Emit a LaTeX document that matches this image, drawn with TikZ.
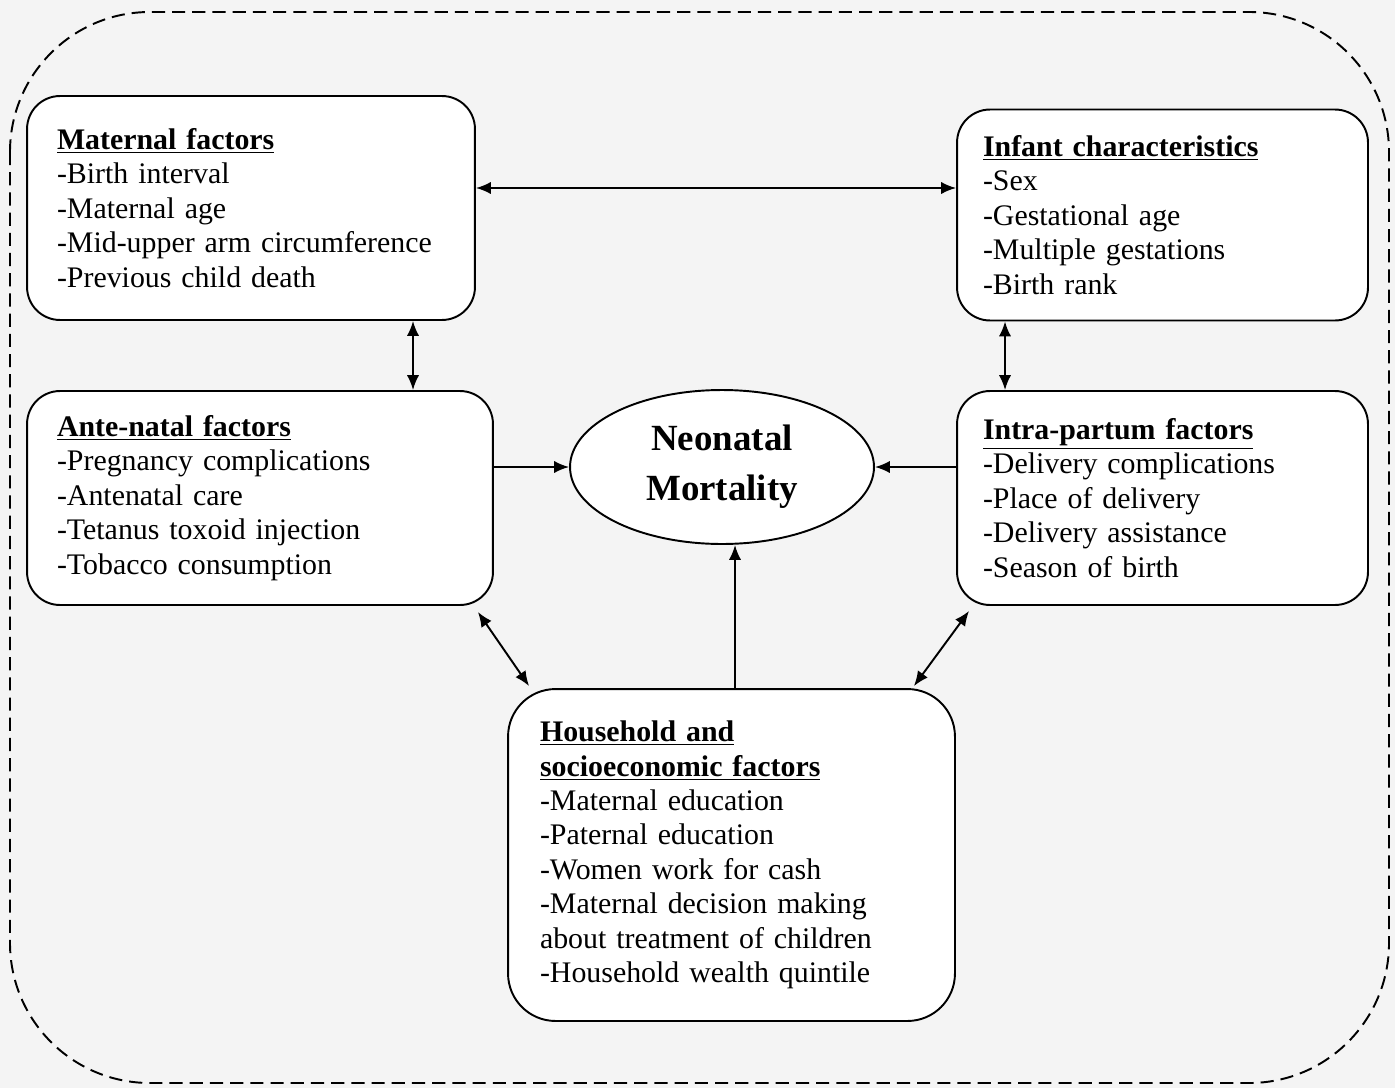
\documentclass[tikz,border=0pt]{standalone}
\usepackage{fontspec}
\setmainfont{Liberation Serif}
\usetikzlibrary{arrows.meta,shapes.geometric}
\definecolor{bggray}{HTML}{F4F4F4}
\begin{document}
\begin{tikzpicture}[x=0.02cm,y=-0.02cm,
 box/.style={draw, line width=1.1pt, rounded corners=0.66cm, fill=white, align=left,
   font=\fontsize{17pt}{19.6pt}\selectfont, inner ysep=0pt},
 arr/.style={line width=1.1pt, -{Latex[length=8.5pt,width=7pt]}},
 darr/.style={line width=1.1pt, {Latex[length=8.5pt,width=7pt]}-{Latex[length=8.5pt,width=7pt]}}]
\useasboundingbox (0,0) rectangle (1395,1088);
\fill[bggray] (0,0) rectangle (1395,1088);
\draw[line width=1.1pt, dash pattern=on 7.5pt off 4pt, rounded corners=2.8cm] (10,12) rectangle (1389,1083);

\node[box, minimum height=4.48cm, text width=7.76cm, inner xsep=0.6cm] (mat) at (251,208)
 {\underline{\textbf{Maternal factors}}\\-Birth interval\\-Maternal age\\-Mid-upper arm circumference\\-Previous child death};
\node[box, minimum height=4.22cm, text width=7.18cm, inner xsep=0.52cm] (inf) at (1162.5,215)
 {\underline{\textbf{Infant characteristics}}\\-Sex\\-Gestational age\\-Multiple gestations\\-Birth rank};
\node[box, minimum height=4.28cm, text width=8.12cm, inner xsep=0.6cm] (ante) at (260,498)
 {\underline{\textbf{Ante-natal factors}}\\-Pregnancy complications\\-Antenatal care\\-Tetanus toxoid injection\\-Tobacco consumption};
\node[box, minimum height=4.28cm, text width=7.18cm, inner xsep=0.52cm] (intra) at (1162.5,498)
 {\underline{\textbf{Intra-partum factors}}\\-Delivery complications\\-Place of delivery\\-Delivery assistance\\-Season of birth};
\node[box, rounded corners=0.95cm, minimum height=6.64cm, text width=7.66cm, inner xsep=0.64cm] (house) at (731.5,855)
 {\underline{\textbf{Household and}}\\\underline{\textbf{socioeconomic factors}}\\-Maternal education\\-Paternal education\\-Women work for cash\\-Maternal decision making\\about treatment of children\\-Household wealth quintile};
\node[draw, ellipse, line width=1.1pt, fill=white, minimum width=6.08cm, minimum height=3.08cm,
  inner sep=0pt, align=center, font=\bfseries\fontsize{21pt}{28.5pt}\selectfont] (neo) at (722,467)
 {Neonatal\\Mortality};

\draw[darr] (mat.east |- 0,188) -- (inf.west |- 0,188);
\draw[darr] (413,0 |- mat.south) -- (413,0 |- ante.north);
\draw[darr] (1005,0 |- inf.south) -- (1005,0 |- intra.north);
\draw[arr] (ante.east |- neo.west) -- (neo.west);
\draw[arr] (intra.west |- neo.east) -- (neo.east);
\draw[arr] (735,0 |- house.north) -- (735,0 |- neo.south);
\draw[darr] ([shift={(-16,6)}]ante.south east) -- ([shift={(22,-2)}]house.north west);
\draw[darr] ([shift={(13,5)}]intra.south west) -- ([shift={(-42,-2)}]house.north east);
\end{tikzpicture}
\end{document}
